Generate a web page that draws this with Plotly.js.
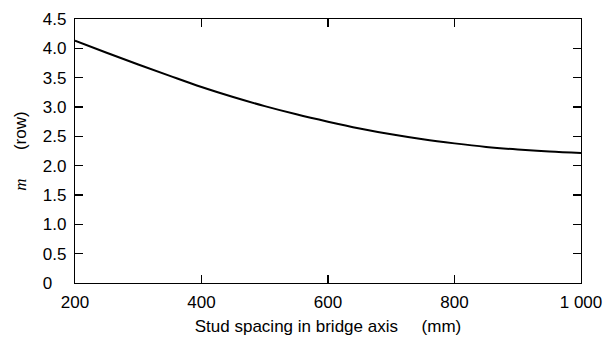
<!DOCTYPE html>
<html>
<head>
<meta charset="utf-8">
<script src="https://cdn.plot.ly/plotly-3.0.1.min.js"></script>
<style>html,body{margin:0;padding:0;background:#fff;}#chart{width:615px;height:338px;}</style>
</head>
<body>
<div id="chart"></div>
<script>
// Data
const studSpacing = [200, 250, 300, 350, 400, 450, 500, 550, 600, 650, 700, 750, 800, 850, 900, 950, 1000];
const mRow = [4.13, 3.925, 3.725, 3.53, 3.34, 3.17, 3.015, 2.875, 2.75, 2.635, 2.535, 2.45, 2.38, 2.32, 2.275, 2.24, 2.215];
const xTickVals = [200, 400, 600, 800, 1000];
const xTickText = ['200', '400', '600', '800', '1 000'];
const yTickVals = [0, 0.5, 1, 1.5, 2, 2.5, 3, 3.5, 4, 4.5];
const yTickText = ['0\u00a0\u00a0\u00a0', '0.5', '1.0', '1.5', '2.0', '2.5', '3.0', '3.5', '4.0', '4.5'];

const font = 'Liberation Sans, Arial, Helvetica, sans-serif';

const trace = {
  x: studSpacing, y: mRow, type: 'scatter', mode: 'lines',
  line: {color: '#000', width: 2, shape: 'spline', smoothing: 1},
  hoverinfo: 'skip'
};

const axisCommon = {
  showgrid: false, zeroline: false, showline: true, linecolor: '#000', linewidth: 1.2,
  mirror: 'ticks', ticks: 'inside', ticklen: 8, tickwidth: 1.2, tickcolor: '#000',
  tickfont: {family: font, size: 17, color: '#000'}
};

const nb = n => '\u00a0'.repeat(n);

const layout = {
  width: 615, height: 338,
  margin: {l: 75, r: 34, t: 19, b: 55},
  paper_bgcolor: '#fff', plot_bgcolor: '#fff',
  showlegend: false,
  xaxis: Object.assign({}, axisCommon, {
    range: [200, 1000], tickmode: 'array', tickvals: xTickVals, ticktext: xTickText,
    ticklabelstandoff: 3,
    title: {text: 'Stud spacing in bridge axis' + nb(5) + '(mm)', font: {family: font, size: 17, color: '#000'}, standoff: 9}
  }),
  yaxis: Object.assign({}, axisCommon, {
    range: [0, 4.5], tickmode: 'array', tickvals: yTickVals, ticktext: yTickText,
    ticklabelstandoff: 4,
    title: {text: '<span style="font-family:Liberation Serif, Times New Roman, serif;font-style:italic">m</span>' + nb(6) + '(row)', font: {family: font, size: 17, color: '#000'}, standoff: 11}
  })
};

Plotly.newPlot('chart', [trace], layout, {staticPlot: true, displayModeBar: false});
</script>
</body>
</html>
